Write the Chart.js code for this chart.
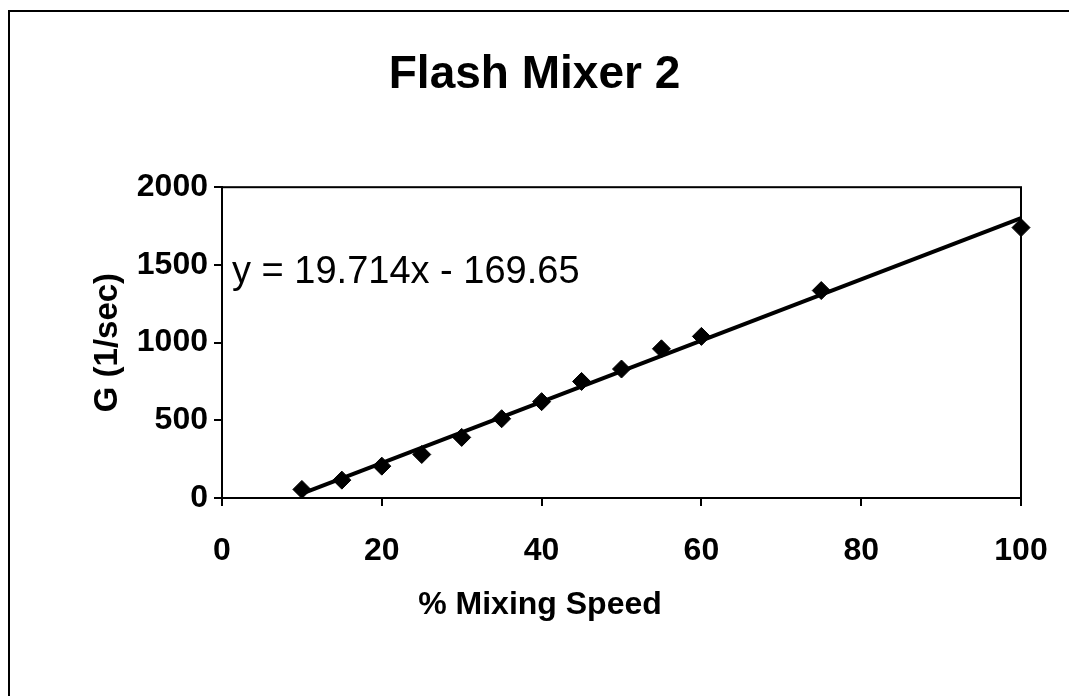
<!DOCTYPE html>
<html>
<head>
<meta charset="utf-8">
<script src="https://cdn.jsdelivr.net/npm/chart.js@4/dist/chart.umd.min.js"></script>
<style>
  html, body { margin: 0; padding: 0; background: #fff; }
  #wrap { position: relative; width: 1069px; height: 696px; }
</style>
</head>
<body>
<div id="wrap"><canvas id="chart"></canvas></div>
<script>
// measured points
const mixing_speed = [10, 15, 20, 25, 30, 35, 40, 45, 50, 55, 60, 75, 100];
const g_values     = [55, 115, 205, 280, 390, 510, 620, 750, 830, 960, 1040, 1335, 1740];

// linear trendline end points, y = 19.714x - 169.65
const trend_x = [10, 100];
const trend_y = [27.49, 1801.75];
const trend_label = 'y = 19.714x - 169.65';

const x_ticks = [0, 20, 40, 60, 80, 100];
const y_ticks = [0, 500, 1000, 1500, 2000];

const x_title = '% Mixing Speed';

const FONT = 'Arial, "Liberation Sans", Helvetica, sans-serif';

let points = mixing_speed.map( (x, i) => ({ x: x, y: g_values[i] }) );
let trend  = trend_x.map( (x, i) => ({ x: x, y: trend_y[i] }) );

// outer frame, plot box, equation text and x title (centred on the figure, not the plot)
const extras = {
    id: 'extras',
    beforeDraw(chart) {
        const ctx = chart.ctx;
        ctx.save();
        ctx.fillStyle = '#fff';
        ctx.fillRect(0, 0, chart.width, chart.height);
        ctx.strokeStyle = '#000';
        ctx.lineWidth = 2;
        ctx.beginPath();
        ctx.moveTo(9, chart.height);
        ctx.lineTo(9, 11);
        ctx.lineTo(chart.width, 11);
        ctx.stroke();
        ctx.restore();
    },
    afterDraw(chart) {
        const ctx = chart.ctx;
        const a = chart.chartArea;
        ctx.save();
        ctx.strokeStyle = '#000';
        ctx.lineWidth = 2;
        ctx.strokeRect(a.left, a.top, a.right - a.left, a.bottom - a.top);
        ctx.fillStyle = '#000';
        ctx.font = '38px ' + FONT;
        ctx.textAlign = 'left';
        ctx.textBaseline = 'alphabetic';
        ctx.fillText(trend_label, a.left + 10, a.top + 96);
        ctx.font = 'bold 32px ' + FONT;
        ctx.textAlign = 'center';
        ctx.textBaseline = 'middle';
        ctx.fillText(x_title, 540, 605);
        ctx.restore();
    }
};

const chart = new Chart(document.getElementById('chart'), {
    type: 'scatter',
    data: {
        datasets: [
            {
                label: 'G',
                data: points,
                backgroundColor: '#000',
                borderColor: '#000',
                pointStyle: 'rectRot',
                pointRadius: 9,
                clip: false,
                order: 2
            },
            {
                type: 'line',
                label: 'Linear',
                data: trend,
                borderColor: '#000',
                borderWidth: 4,
                pointRadius: 0,
                fill: false,
                clip: false,
                order: 1
            }
        ]
    },
    options: {
        responsive: true,
        maintainAspectRatio: false,
        animation: false,
        layout: { padding: 0 },
        plugins: {
            legend: { display: false },
            tooltip: { enabled: false },
            title: {
                display: true,
                text: 'Flash Mixer 2',
                color: '#000',
                font: { family: FONT, size: 46, weight: 'bold', lineHeight: 1.2 },
                padding: { top: 48, bottom: 84 }
            }
        },
        scales: {
            x: {
                type: 'linear',
                min: 0,
                max: 100,
                afterBuildTicks: (s) => { s.ticks = x_ticks.map(v => ({ value: v })); },
                afterFit: (s) => { s.height = 198; s.paddingLeft = 0; s.paddingRight = 0; },
                ticks: {
                    color: '#000',
                    font: { family: FONT, size: 32, weight: 'bold' },
                    padding: 26,
                    maxRotation: 0
                },
                grid: { display: true, drawOnChartArea: false, drawTicks: true, tickLength: 8, color: '#000', lineWidth: 2 },
                border: { display: true, color: '#000', width: 2 }
            },
            y: {
                type: 'linear',
                min: 0,
                max: 2000,
                afterBuildTicks: (s) => { s.ticks = y_ticks.map(v => ({ value: v })); },
                afterFit: (s) => { s.width = 222; },
                ticks: {
                    color: '#000',
                    font: { family: FONT, size: 32, weight: 'bold' },
                    padding: 6,
                    callback: (v) => String(v)
                },
                grid: { display: true, drawOnChartArea: false, drawTicks: true, tickLength: 8, color: '#000', lineWidth: 2 },
                border: { display: true, color: '#000', width: 2 },
                title: {
                    display: true,
                    text: 'G (1/sec)',
                    color: '#000',
                    font: { family: FONT, size: 33, weight: 'bold', lineHeight: 1.2 },
                    padding: { top: 88, bottom: 0 }
                }
            },
            // empty right-hand box, keeps the plot edge at the reference position
            y2: {
                type: 'linear',
                position: 'right',
                display: true,
                afterFit: (s) => { s.width = 48; },
                ticks: { display: false },
                grid: { display: false },
                border: { display: false }
            }
        }
    },
    plugins: [extras]
});
</script>
</body>
</html>
